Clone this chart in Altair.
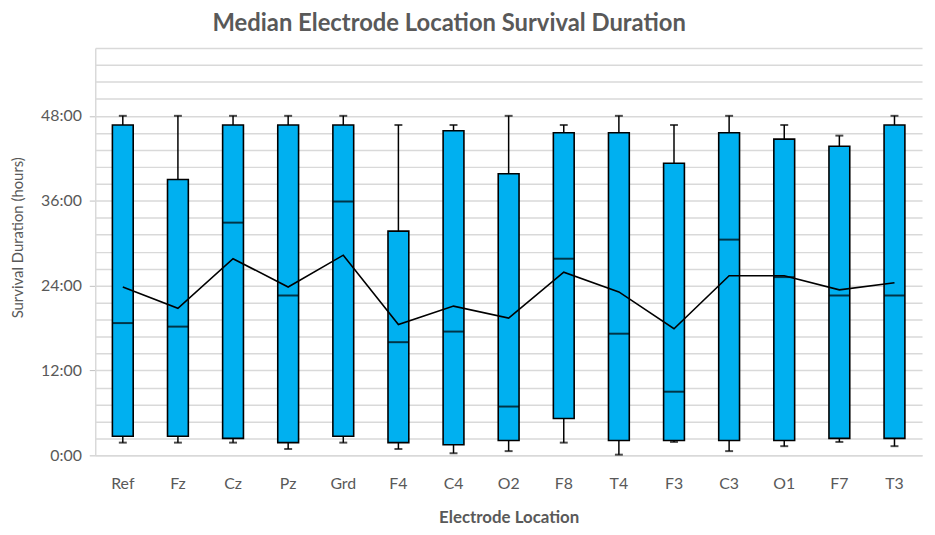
import altair as alt
import pandas as pd

electrodes = ["Ref", "Fz", "Cz", "Pz", "Grd", "F4", "C4", "O2", "F8", "T4", "F3", "C3", "O1", "F7", "T3"]
mins    = [1.8, 1.8, 1.8, 0.9, 1.8, 0.9, 0.3, 0.6, 1.8, 0.1, 1.9, 0.6, 1.3, 1.9, 1.3]
q1s     = [2.7, 2.7, 2.4, 1.8, 2.7, 1.8, 1.5, 2.1, 5.2, 2.1, 2.1, 2.1, 2.1, 2.4, 2.4]
medians = [18.7, 18.2, 32.9, 22.6, 35.9, 16.0, 17.5, 6.9, 27.8, 17.2, 9.0, 30.5, 25.2, 22.6, 22.6]
q3s     = [46.7, 39.0, 46.7, 46.7, 46.7, 31.7, 45.9, 39.8, 45.6, 45.6, 41.3, 45.6, 44.7, 43.7, 46.7]
maxs    = [48.0, 48.0, 48.0, 48.0, 48.0, 46.7, 46.7, 48.0, 46.7, 48.0, 46.7, 48.0, 46.7, 45.2, 48.0]
means   = [23.8, 20.8, 27.8, 23.8, 28.3, 18.5, 21.1, 19.4, 25.9, 23.1, 17.9, 25.4, 25.4, 23.4, 24.4]

grid_values = [0, 2.4, 4.8, 7.2, 9.6, 12, 14.4, 16.8, 19.2, 21.6, 24, 26.4, 28.8, 31.2,
               33.6, 36, 38.4, 40.8, 43.2, 45.6, 48, 50.4, 52.8, 55.2, 57.6]

df = pd.DataFrame({
    "Electrode": electrodes, "min": mins, "q1": q1s, "median": medians,
    "q3": q3s, "max": maxs, "mean": means,
})

GREY = "#595959"
FONT = "Lato"

x = alt.X("Electrode:N", sort=electrodes,
          scale=alt.Scale(paddingInner=0, paddingOuter=0),
          axis=alt.Axis(title="Electrode Location", labelAngle=0, ticks=False,
                        domainColor="#d9d9d9", domainWidth=1.5,
                        labelPadding=20, labelFontSize=16, labelColor=GREY, labelFont=FONT,
                        titlePadding=19, titleFontSize=17, titleFontWeight="bold",
                        titleColor=GREY, titleFont=FONT))

yscale = alt.Scale(domain=[0, 57.6], nice=False, zero=True)
yaxis = alt.Axis(
    title="Survival Duration (hours)", values=grid_values, tickCount=100,
    labelExpr="abs(datum.value % 12) < 0.01 ? datum.value + ':00' : ''",
    labelOverlap=False,
    grid=True, gridColor="#d9d9d9", gridWidth=1.5,
    domainColor="#d9d9d9", domainWidth=1.5,
    tickColor="#bfbfbf", tickSize=6,
    tickOpacity={"condition": {"test": "abs(datum.value % 12) < 0.01", "value": 1}, "value": 0},
    labelPadding=8, labelFontSize=16, labelColor=GREY, labelFont=FONT,
    titleX=-70, titleY=191,
    titleFontSize=15, titleFontWeight="normal", titleColor=GREY, titleFont=FONT,
)

base = alt.Chart(df)

whisker = base.mark_rule(color="black", strokeWidth=1.5).encode(
    x=x, y=alt.Y("min:Q", scale=yscale, axis=yaxis), y2="max:Q")
box = base.mark_bar(size=21, color="#00B0F0", stroke="black", strokeWidth=1.6).encode(
    x=x, y=alt.Y("q1:Q", scale=yscale), y2="q3:Q")
med = base.mark_tick(size=21, thickness=2, color="black").encode(
    x=x, y=alt.Y("median:Q", scale=yscale))
cap_top = base.mark_tick(size=8, thickness=2, color="black").encode(
    x=x, y=alt.Y("max:Q", scale=yscale))
cap_bot = base.mark_tick(size=8, thickness=2, color="black").encode(
    x=x, y=alt.Y("min:Q", scale=yscale))
mean_line = base.mark_line(color="black", strokeWidth=1.6).encode(
    x=x, y=alt.Y("mean:Q", scale=yscale))

chart = alt.layer(whisker, box, med, cap_top, cap_bot, mean_line).properties(
    width=834, height=411,
    title=alt.TitleParams("Median Electrode Location Survival Duration",
                          fontSize=24, fontWeight="bold", color=GREY, font=FONT,
                          anchor="middle", dx=-60, offset=4),
    autosize=alt.AutoSizeParams(type="none"),
    padding={"left": 88, "top": 38, "right": 5, "bottom": 70},
).configure_view(stroke=None)

chart.save("out.html", embed_options={"renderer": "svg", "actions": False})
